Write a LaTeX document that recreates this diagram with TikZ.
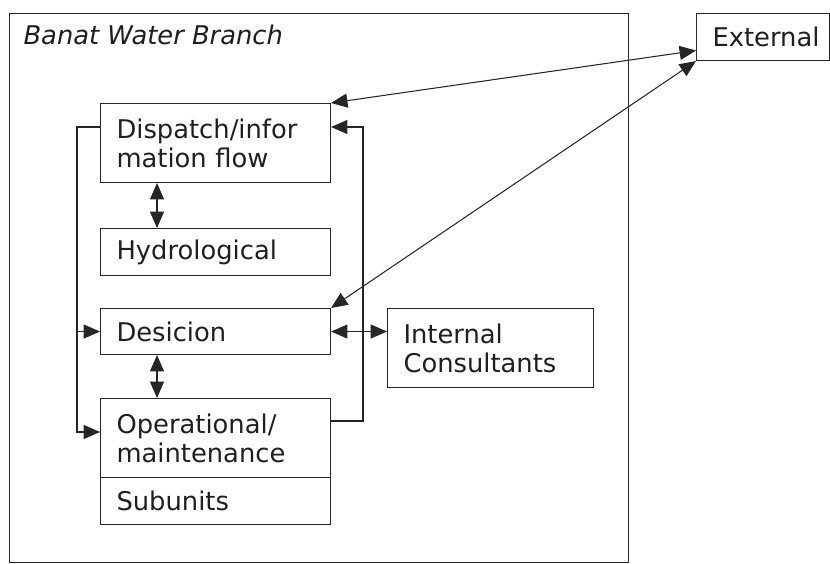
\documentclass[tikz,border=0pt]{standalone}
\usepackage{fontspec}
\setmainfont{DejaVu Sans}
\usetikzlibrary{positioning,arrows.meta,calc}
\tikzset{
  >={Triangle[length=14pt,width=12pt]},
}

\begin{document}
\begin{tikzpicture}[
  x=0.03cm,y=-0.03cm,
  line width=0.9pt,
  draw=black!85,
  every node/.style={font=\fontsize{22}{24.75}\selectfont,text=black!88},
  box/.style={draw,rectangle,anchor=north west,align=left,
              inner xsep=0.48cm,inner ysep=0pt},
  frame/.style={draw,rectangle,anchor=north west,inner sep=0pt},
  conn/.style={<->}
]
\useasboundingbox (0,0) rectangle (830,564);

% outer branch frame
\node[frame,minimum width=18.57cm,minimum height=16.47cm] (branch) at (9,13) {};
\node[anchor=base west,inner sep=0pt,font=\fontsize{22}{24.75}\selectfont\itshape]
  (title) at (23,45) {Banat Water Branch};

\node[box,text width=5.94cm,minimum height=2.37cm] (disp) at (100,103)
  {Dispatch/infor\\mation flow};
\node[box,text width=5.94cm,minimum height=1.41cm] (hyd) at (100,228)
  {Hydrological};
\node[box,text width=5.94cm,minimum height=1.38cm] (dec) at (100,308)
  {Desicion};
\node[box,text width=5.94cm,minimum height=2.37cm] (op) at (100,398)
  {Operational/\\maintenance};
\node[box,text width=5.94cm,minimum height=1.41cm] (sub) at (100,477)
  {Subunits};

\node[box,text width=5.22cm,minimum height=2.37cm] (int) at (387,308)
  {Internal\\Consultants};
\node[box,text width=3.03cm,minimum height=1.41cm] (ext) at (696,13)
  {External};

% vertical links
\draw[conn] ([xshift=1.71cm]disp.south west) -- ([xshift=1.71cm]hyd.north west);
\draw[conn] ([xshift=1.71cm]dec.south west) -- ([xshift=1.71cm]op.north west);
\draw[conn] (dec.east) -- (dec.east -| int.west);

% external links
\draw[conn] ([yshift=-0.405cm]ext.west) -- (disp.north east);
\draw[conn] (ext.south west) -- (dec.north east);

% feedback loops
\coordinate (lt) at (77,127);
\coordinate (lb) at (77,432);
\coordinate (rt) at (363,127);
\coordinate (rb) at (363,421);

\draw[->] (lt -| disp.west) -- (lt) -- (lb) -- (lb -| op.west);
\draw[->] (lt |- dec.west) -- (dec.west);
\draw[->] (rb -| op.east) -- (rb) -- (rt) -- (rt -| disp.east);

\end{tikzpicture}
\end{document}
